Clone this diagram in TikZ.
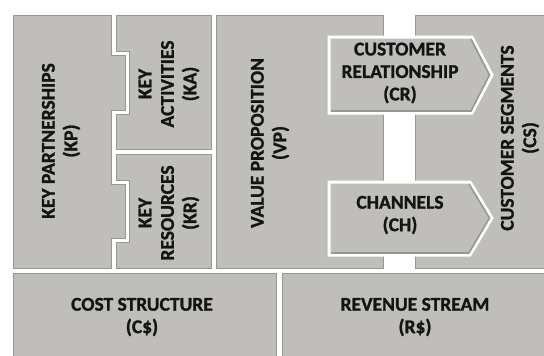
\documentclass[tikz,border=0pt]{standalone}
\usepackage{fontspec}
\setmainfont{Carlito}
\newfontfamily\LabelFont{Carlito}[UprightFont={* Bold}, FakeBold=1.2]
\definecolor{BoxGray}{RGB}{191,190,186}
\definecolor{EdgeGray}{RGB}{150,150,147}
\definecolor{TextGray}{RGB}{20,20,20}
\tikzset{
    CanvasBox/.style={fill=BoxGray, draw=EdgeGray, line width=0.7pt},
    CanvasArrow/.style={fill=BoxGray, draw=white, line width=3pt, line join=miter},
    BoxLabel/.style={font=\LabelFont\fontsize{19.5}{22.5}\selectfont, align=center, text=TextGray, inner sep=0pt},
}
\newcommand\SideLabel[3]{%
    \node[BoxLabel, rotate=90] (#1) at #2 {#3};
}
\newcommand\FlatLabel[3]{%
    \node[BoxLabel] (#1) at #2 {#3};
}
\begin{document}
\begin{tikzpicture}[x=1pt, y=-1pt]
    \useasboundingbox (0,0) rectangle (544,356);
    \clip (0,0) rectangle (544,356);
    \begin{scope} % left blocks
        \draw[CanvasBox] (13,15) -- (111,15) -- (111,55) -- (125,55) -- (125,110) -- (111,110)
            -- (111,184) -- (125,184) -- (125,238) -- (111,238) -- (111,268) -- (13,268) -- cycle;
        \draw[CanvasBox] (116,15) -- (211,15) -- (211,149) -- (116,149) -- (116,114) -- (129,114)
            -- (129,51) -- (116,51) -- cycle;
        \draw[CanvasBox] (116,154) -- (211,154) -- (211,268) -- (116,268) -- (116,242) -- (129,242)
            -- (129,180) -- (116,180) -- cycle;
    \end{scope}
    \begin{scope} % middle and right blocks
        \draw[CanvasBox] (216,15) rectangle (383,268);
        \draw[CanvasBox] (415,15) rectangle (550,268);
        \draw[CanvasBox] (13,273) rectangle (276,362);
        \draw[CanvasBox] (282,273) rectangle (550,362);
    \end{scope}
    \begin{scope} % CR and CH arrows
        \draw[CanvasArrow] (329,37) -- (472,37) -- (492,75) -- (472,113) -- (329,113) -- cycle;
        \draw[EdgeGray, line width=1.6pt] (471,39) -- (489.5,75) -- (471,111) -- (331,111);
        \draw[CanvasArrow] (329,182) -- (470,182) -- (492,218) -- (470,255) -- (329,255) -- cycle;
        \draw[EdgeGray, line width=1.6pt] (469,184) -- (489.5,218) -- (469,253) -- (331,253);
    \end{scope}
    \SideLabel{KP}{(61,141)}{KEY PARTNERSHIPS\\(KP)}
    \SideLabel{KA}{(169,84)}{KEY\\ACTIVITIES\\(KA)}
    \SideLabel{KR}{(169,213)}{KEY\\RESOURCES\\(KR)}
    \SideLabel{VP}{(270,143)}{VALUE PROPOSITION\\(VP)}
    \SideLabel{CS}{(520,138)}{CUSTOMER SEGMENTS\\(CS)}
    \FlatLabel{CR}{(400,73)}{CUSTOMER\\RELATIONSHIP\\(CR)}
    \FlatLabel{CH}{(400,215)}{CHANNELS\\(CH)}
    \FlatLabel{CostS}{(142,317)}{COST STRUCTURE\\(C\$)}
    \FlatLabel{RevS}{(415,317)}{REVENUE STREAM\\(R\$)}
\end{tikzpicture}
\end{document}
